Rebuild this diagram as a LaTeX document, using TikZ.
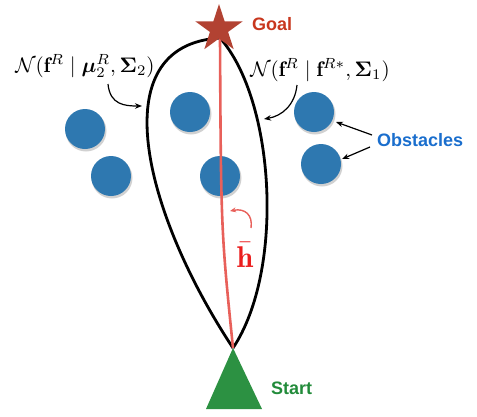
\documentclass[tikz,border=0pt]{standalone}
\usepackage{amsmath}
\usepackage{fontspec}
\newfontfamily\labfont{Liberation Sans}
\usetikzlibrary{arrows.meta,shapes.geometric}
\definecolor{starc}{RGB}{178,66,50}
\definecolor{goalc}{RGB}{200,55,30}
\definecolor{trigc}{RGB}{44,145,66}
\definecolor{startc}{RGB}{34,139,58}
\definecolor{obsc}{RGB}{46,120,176}
\definecolor{obstxt}{RGB}{26,110,205}
\definecolor{redline}{RGB}{232,96,90}
\definecolor{hbarc}{RGB}{235,30,30}
\tikzset{
  obstacle/.style={circle,fill=obsc,minimum size=40pt,inner sep=0pt},
  shadowc/.style={circle,fill=black!18,minimum size=41pt,inner sep=0pt},
  tag/.style={font=\labfont\bfseries\fontsize{18}{21}\selectfont,inner sep=0pt},
  mathlab/.style={font=\normalsize,inner sep=0pt,scale=2.1,transform shape},
  pointer/.style={-{Stealth[length=7pt,width=5.5pt]},line width=1.2pt},
  path/.style={line width=2.8pt},
}
\begin{document}
\begin{tikzpicture}[x=1pt,y=-1pt]
\useasboundingbox (0,0) rectangle (477,416);
% obstacles
\foreach \n/\px/\py in {o1/85/129,o2/111/176,o3/190/112,o4/220/176,o5/314/112,o6/321/164}{
  \node[shadowc] at (\px+1,\py+2) {};
  \node[obstacle] (\n) at (\px,\py) {};
}
% start triangle
\coordinate (apex) at (233,348);
\fill[trigc] (apex) -- (262,409) -- (206,409) -- cycle;
\node[tag,text=startc,anchor=west] (start) at (271,388) {Start};
% goal
\coordinate (top) at (220,38);
% paths
\draw[path,line join=round] (apex) .. controls (145,215) and (100,45) .. (top)
   .. controls (275,100) and (285,270) .. (apex);
\draw[redline,line width=2.6pt] (apex) .. controls (221,230) .. (top);
\node[star,star points=5,star point ratio=2.618,minimum size=50pt,inner sep=0pt,fill=starc] (goalstar) at (219,29) {};
\node[tag,text=goalc,anchor=west] (goal) at (252,24) {Goal};
% labels
\node[mathlab] (lab2) at (85,66) {$\mathcal{N}(\mathbf{f}^R \mid \boldsymbol{\mu}_2^R, \boldsymbol{\Sigma}_2)$};
\node[mathlab] (lab1) at (320,70) {$\mathcal{N}(\mathbf{f}^R \mid \mathbf{f}^{R*}, \boldsymbol{\Sigma}_1)$};
\coordinate (a2s) at (108,84);
\coordinate (a2e) at (142,106);
\draw[pointer] (a2s) .. controls (110,105) and (125,106) .. (a2e);
\coordinate (a1s) at (297,85);
\coordinate (a1e) at (264,119);
\draw[pointer] (a1s) .. controls (295,105) and (282,116) .. (a1e);
% obstacles label
\node[tag,text=obstxt,anchor=west] (obs) at (377,140) {Obstacles};
\coordinate (ob1) at (372,135);
\coordinate (ob2) at (370,147);
\draw[pointer] (ob1) -- (336,122);
\draw[pointer] (ob2) -- (342,159);
% h bar
\node[font=\normalsize,scale=3,transform shape,text=hbarc,inner sep=0pt] (hbar) at (245,255) {$\bar{\mathbf{h}}$};
\coordinate (hs) at (251,228);
\coordinate (he) at (230,211);
\draw[redline,line width=1.4pt,-{Stealth[length=6pt,width=5pt]}] (hs) .. controls (253,215) and (245,208) .. (he);
\end{tikzpicture}
\end{document}
